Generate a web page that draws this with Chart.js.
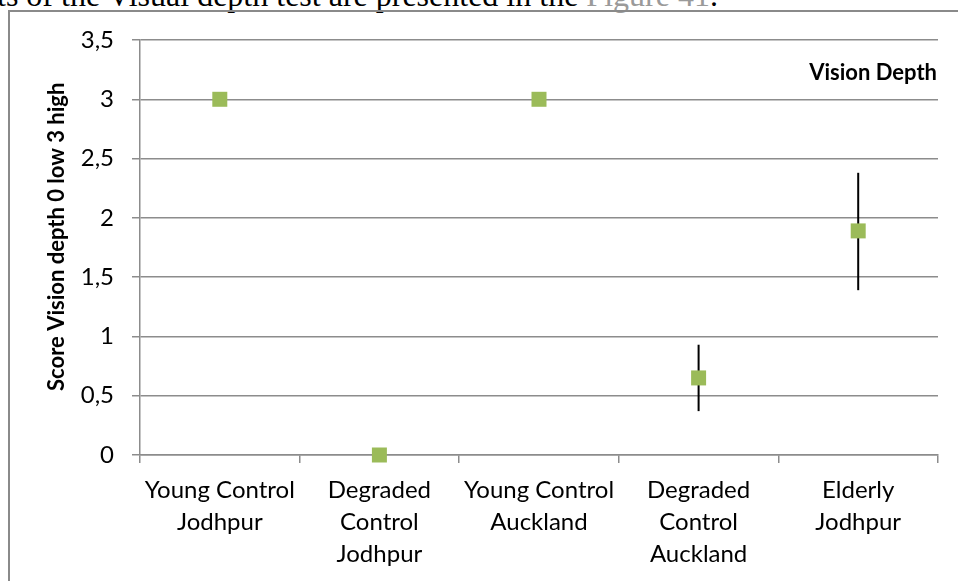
<!DOCTYPE html>
<html>
<head>
<meta charset="utf-8">
<script src="https://cdn.jsdelivr.net/npm/chart.js@4"></script>
<style>
  html, body { margin: 0; padding: 0; background: #fff; overflow: hidden; }
  body { width: 958px; height: 581px; position: relative; }
  .lead { position: absolute; left: -3px; top: -21px; font-family: 'Liberation Serif', serif; font-size: 32px; line-height: 32px; white-space: nowrap; color: #000; }
  .lead span { color: #9a9a9a; }
  .frame { position: absolute; left: 8px; top: 10px; width: 1000px; height: 620px; border: 2px solid #8a8a8a; box-sizing: border-box; }
  #wrap { position: absolute; left: 0; top: 0; width: 958px; height: 581px; }
</style>
</head>
<body>
<div class="lead">ts of the Visual depth test are presented in the <span>Figure 41</span>.</div>
<div class="frame"></div>
<div id="wrap"><canvas id="depthChart"></canvas></div>
<script>
// chart data
var groups = [
  ['Young Control', 'Jodhpur'],
  ['Degraded', 'Control', 'Jodhpur'],
  ['Young Control', 'Auckland'],
  ['Degraded', 'Control', 'Auckland'],
  ['Elderly', 'Jodhpur']
];
var scores = [3, 0, 3, 0.65, 1.89];
var errLow = [null, null, null, 0.37, 1.39];
var errHigh = [null, null, null, 0.93, 2.38];

var gridColor = '#8c8c8c';
var labelFont = { family: 'Lato', size: 24, lineHeight: 32 / 24 };

// vertical error bars, drawn under the markers
var errorBars = {
  id: 'errorBars',
  beforeDatasetsDraw: function(chart) {
    var ctx = chart.ctx, x = chart.scales.x, y = chart.scales.y;
    ctx.save();
    ctx.strokeStyle = '#000';
    ctx.lineWidth = 2;
    scores.forEach(function(v, i) {
      if (errLow[i] == null) return;
      var px = x.getPixelForValue(i);
      ctx.beginPath();
      ctx.moveTo(px, y.getPixelForValue(errHigh[i]));
      ctx.lineTo(px, y.getPixelForValue(errLow[i]));
      ctx.stroke();
    });
    ctx.restore();
  }
};

// "Vision Depth" title sits inside the plot, top right
var innerTitle = {
  id: 'innerTitle',
  afterDraw: function(chart) {
    var ctx = chart.ctx, area = chart.chartArea;
    ctx.save();
    ctx.font = 'bold 22px Lato';
    ctx.fillStyle = '#000';
    ctx.textAlign = 'right';
    ctx.textBaseline = 'alphabetic';
    ctx.fillText('Vision Depth', area.right - 1, area.top + 40);
    ctx.restore();
  }
};

new Chart(document.getElementById('depthChart'), {
  type: 'line',
  data: {
    labels: groups,
    datasets: [{
      data: scores,
      showLine: false,
      clip: false,
      pointStyle: 'rect',
      pointRadius: 10.6,
      pointHoverRadius: 10.6,
      pointBackgroundColor: '#9bbb59',
      pointBorderColor: '#9bbb59',
      pointBorderWidth: 0
    }]
  },
  options: {
    responsive: true,
    maintainAspectRatio: false,
    animation: false,
    layout: { padding: { top: 40, right: 20, left: 0, bottom: 0 } },
    plugins: { legend: { display: false }, tooltip: { enabled: false } },
    scales: {
      x: {
        offset: true,
        grid: { offset: true, drawOnChartArea: false, tickLength: 8, color: gridColor, lineWidth: 1.5 },
        border: { color: gridColor, width: 1.5 },
        ticks: { font: labelFont, color: '#000', padding: 11, maxRotation: 0, autoSkip: false },
        afterFit: function(scale) { scale.height = 126; }
      },
      y: {
        min: 0,
        max: 3.5,
        grid: { color: gridColor, lineWidth: 1.5, tickLength: 8 },
        border: { color: gridColor, width: 1.5 },
        ticks: {
          stepSize: 0.5,
          font: labelFont,
          color: '#000',
          padding: 18,
          callback: function(v) { return String(v).replace('.', ','); }
        },
        title: {
          display: true,
          text: '    Score Vision depth 0 low 3 high',
          font: { family: 'Lato', size: 22, weight: 'bold' },
          color: '#000',
          padding: { top: 44, bottom: 0 }
        },
        afterFit: function(scale) { scale.width = 140; }
      }
    }
  },
  plugins: [errorBars, innerTitle]
});
</script>
</body>
</html>
